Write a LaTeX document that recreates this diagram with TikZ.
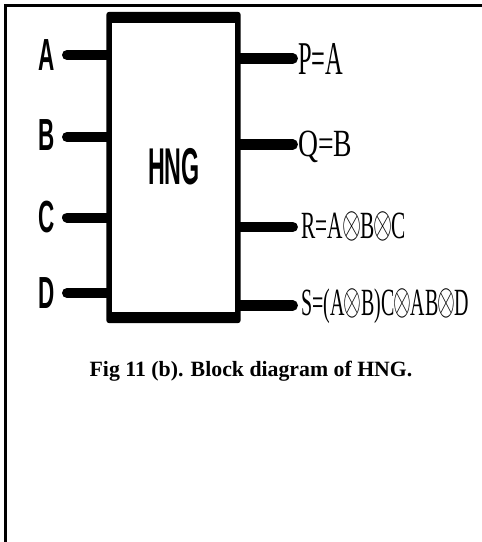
\RequirePackage{fix-cm}
\documentclass[tikz,border=0pt]{standalone}
\usepackage{fontspec}
\usepackage{graphicx}
\setmainfont{Liberation Serif}
\newfontfamily\pinfont{Liberation Sans}
% thin circled-times operator, set tight against its neighbours
\newcommand{\xo}{\kern-1.5pt\raisebox{1pt}{\scalebox{1.15}{$\otimes$}}\kern-1.5pt}
\tikzset{
  pinlabel/.style={inner sep=0pt, anchor=base, font=\pinfont\bfseries\fontsize{45}{50}\selectfont},
  outlabel/.style={inner sep=0pt, anchor=base west},
  inwire/.style={line width=10pt, line cap=round},
  outwire/.style={line width=10.5pt, line cap=round},
}
\begin{document}
\begin{tikzpicture}[x=1pt, y=-1pt]
  \useasboundingbox (0,0) rectangle (482,542);
  % page frame (top and left rules)
  \draw[line width=2.5pt, line cap=butt] (5.3,542) -- (5.3,5.3) -- (482,5.3);

  % gate outline
  \path node[name=blk, minimum width=134pt, minimum height=311pt, inner sep=0pt] at (173.5,167.5) {};

  % input pins
  \node[pinlabel] (lA) at (46.5,70.7) {\scalebox{0.5}[1]{A}};
  \node[pinlabel] (lB) at (46.5,150)  {\scalebox{0.5}[1]{B}};
  \node[pinlabel] (lC) at (46.5,232.5){\scalebox{0.5}[1]{C}};
  \node[pinlabel] (lD) at (46.5,308.3){\scalebox{0.5}[1]{D}};
  \coordinate (iA) at (67,55);
  \coordinate (iB) at (67,137);
  \coordinate (iC) at (67,217.5);
  \coordinate (iD) at (67,293);
  \foreach \p in {A,B,C,D}
    \draw[inwire] (i\p) -- (i\p -| blk.west);

  % output pins
  \coordinate (oP) at (292.7,58.5);
  \coordinate (oQ) at (292.7,144.5);
  \coordinate (oR) at (292.7,227);
  \coordinate (oS) at (292.7,305.5);
  \foreach \p in {P,Q,R,S}
    \draw[outwire] (o\p -| blk.east) -- (o\p);

  \node[outlabel] (tP) at (298,74)
    {\fontsize{47}{50}\selectfont\resizebox{45pt}{\height}{P=A}};
  \node[outlabel] (tQ) at (298,156.5)
    {\fontsize{38.5}{42}\selectfont\resizebox{54pt}{\height}{Q=B}};
  \node[outlabel] (tR) at (301,238.3)
    {\fontsize{38.5}{42}\selectfont\resizebox{105pt}{\height}{R=A\xo B\xo C}};
  \node[outlabel] (tS) at (301,315)
    {\fontsize{38.5}{42}\selectfont\resizebox{168pt}{\height}{S=(A\xo B)C\xo AB\xo D}};

  % block body: thick rounded outline with white interior
  \fill[rounded corners=3pt] (blk.north west) rectangle (blk.south east);
  \fill[white] ([xshift=5.2pt,yshift=-11pt]blk.north west)
    rectangle ([xshift=-5.5pt,yshift=11pt]blk.south east);
  \node[inner sep=0pt, anchor=base, font=\pinfont\bfseries\fontsize{51.7}{55}\selectfont]
    (name) at (174,184.5) {\scalebox{0.45}[1]{HNG}};

  % caption
  \node[inner sep=0pt, anchor=base, font=\bfseries\fontsize{21.8}{26}\selectfont]
    (cap) at (251,376.5) {Fig 11 (b). Block diagram of HNG.};
\end{tikzpicture}
\end{document}
